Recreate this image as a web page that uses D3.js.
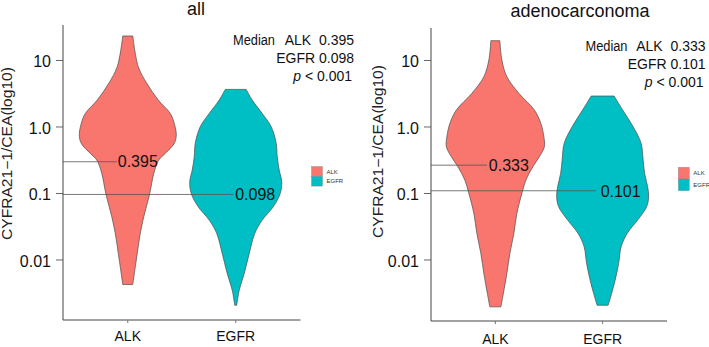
<!DOCTYPE html>
<html><head><meta charset="utf-8">
<script src="https://cdn.jsdelivr.net/npm/d3@7"></script>
<style>body{margin:0;background:#fff}svg{display:block;font-family:"Liberation Sans",Arial,sans-serif}</style>
</head><body><svg id="c" width="709" height="347"></svg>
<script>
// ---- data ----
const categories = ["ALK", "EGFR"];
const yTickValues = [10, 1, 0.1, 0.01];
const yTickLabels = ["10", "1.0", "0.1", "0.01"];
const titles = ["all", "adenocarconoma"];
const yLabel = "CYFRA21\u22121/CEA(log10)";

// violin outlines: value (ratio) and relative density
const allALKValues   = [22.96, 7.94, 4.46, 2.50, 1.57, 1.11, 0.743, 0.557, 0.394, 0.313, 0.197, 0.0984, 0.0439, 0.0246, 0.00977, 0.0042];
const allALKDensity  = [0.10, 0.21, 0.38, 0.61, 0.85, 0.93, 0.97, 0.93, 0.75, 0.62, 0.52, 0.44, 0.32, 0.25, 0.17, 0.10];
const allEGFRValues  = [3.61, 2.50, 1.57, 0.992, 0.557, 0.351, 0.221, 0.148, 0.0984, 0.0619, 0.0391, 0.0246, 0.0123, 0.00615, 0.00345, 0.00205];
const allEGFRDensity = [0.21, 0.33, 0.53, 0.71, 0.81, 0.83, 0.87, 0.92, 0.89, 0.75, 0.53, 0.38, 0.27, 0.17, 0.07, 0.02];
const adALKValues    = [19.5, 10.0, 5.61, 3.15, 1.77, 1.11, 0.701, 0.495, 0.351, 0.248, 0.156, 0.0984, 0.0492, 0.0246, 0.0123, 0.00615, 0.00308, 0.00194];
const adALKDensity   = [0.09, 0.13, 0.23, 0.47, 0.78, 0.91, 0.97, 0.98, 0.88, 0.75, 0.61, 0.53, 0.43, 0.37, 0.29, 0.23, 0.16, 0.11];
const adEGFRValues   = [2.87, 1.77, 0.992, 0.557, 0.313, 0.197, 0.124, 0.0877, 0.0619, 0.0391, 0.0246, 0.0155, 0.00869, 0.00488, 0.00308, 0.00205];
const adEGFRDensity  = [0.23, 0.40, 0.61, 0.77, 0.81, 0.84, 0.90, 0.92, 0.88, 0.70, 0.49, 0.37, 0.32, 0.25, 0.18, 0.11];

// median marker lines (position as drawn) and their labels
const allMedianLinePos = [0.295, 0.095];
const allMedianLabels  = ["0.395", "0.098"];
const adMedianLinePos  = [0.262, 0.108];
const adMedianLabels   = ["0.333", "0.101"];
const allNote = ["ALK  0.395", "EGFR 0.098"];
const adNote  = ["ALK  0.333", "EGFR 0.101"];
const pText = "< 0.001";

const colors = ["#F8766D", "#00BFC4"];

const svg = d3.select("#c");
const y = d3.scaleLog().domain([Math.pow(10, -2.91), Math.pow(10, 1.526)]).range([320, 25]);
const w = d3.scaleLinear().domain([0, 1]).range([0, 50]);

function panel(cfg) {
  const g = svg.append("g");
  const x = d3.scaleLinear().domain([0.4, 2.6]).range([cfg.x0, cfg.x1]);
  // violins
  cfg.violins.forEach((v, i) => {
    const pts = v.values.map((val, k) => ({ v: val, d: v.density[k] }));
    const cx = x(i + 1);
    const area = d3.area()
      .y(d => y(d.v))
      .x0(d => cx - w(d.d))
      .x1(d => cx + w(d.d))
      .curve(d3.curveCatmullRom.alpha(0.5));
    g.append("path").attr("d", area(pts))
      .attr("fill", colors[i]).attr("stroke", "#4a4a4a").attr("stroke-width", 0.7);
  });
  // median lines + labels
  cfg.medianPos.forEach((m, i) => {
    const cx = x(i + 1);
    const xe = cx + cfg.lineEndOff[i];
    g.append("line").attr("x1", cfg.x0).attr("x2", xe)
      .attr("y1", y(m)).attr("y2", y(m)).attr("stroke", "#555").attr("stroke-width", 0.8);
    g.append("text").attr("x", xe + cfg.labelGap[i]).attr("y", y(m)).attr("dy", "0.36em")
      .attr("font-size", 16).attr("fill", "#111").text(cfg.medianLabels[i]);
  });
  // axes
  const ya = d3.axisLeft(y).tickValues(yTickValues).tickFormat((d, i) => yTickLabels[i]).tickSize(7).tickPadding(5);
  const yg = g.append("g").attr("transform", `translate(${cfg.x0},0)`).call(ya);
  yg.select(".domain").remove();
  yg.selectAll("line").attr("stroke", "#666");
  yg.selectAll("text").attr("font-size", 16).attr("dy", "0.42em").attr("fill", "#111").attr("font-family", "Liberation Sans, Arial, sans-serif");
  g.append("line").attr("x1", cfg.x0).attr("x2", cfg.x0).attr("y1", cfg.top).attr("y2", cfg.bottom).attr("stroke", "#444").attr("stroke-width", 1);
  g.append("line").attr("x1", cfg.x0).attr("x2", cfg.x1).attr("y1", cfg.bottom).attr("y2", cfg.bottom).attr("stroke", "#444").attr("stroke-width", 1);
  categories.forEach((c, i) => {
    g.append("line").attr("x1", x(i + 1)).attr("x2", x(i + 1)).attr("y1", cfg.bottom).attr("y2", cfg.bottom + 3).attr("stroke", "#777");
    g.append("text").attr("x", x(i + 1)).attr("y", cfg.xLabY).attr("text-anchor", "middle")
      .attr("font-size", 14).attr("fill", "#111").text(c);
  });
  // y label
  g.append("text").attr("transform", `translate(${cfg.yLabX},${cfg.yLabC}) rotate(-90)`)
    .attr("text-anchor", "middle").attr("font-size", 14).attr("fill", "#222")
    .attr("textLength", 173).attr("lengthAdjust", "spacingAndGlyphs").text(yLabel);
  // title
  g.append("text").attr("x", cfg.titleX).attr("y", cfg.titleY).attr("text-anchor", "middle")
    .attr("font-size", 18).attr("fill", "#111").text(cfg.title);
  // annotation
  g.append("text").attr("x", cfg.noteX0).attr("y", cfg.noteY).attr("font-size", 14).attr("fill", "#111")
    .attr("textLength", 42).attr("lengthAdjust", "spacingAndGlyphs").text("Median");
  cfg.note.forEach((t, i) => {
    g.append("text").attr("x", cfg.noteX1).attr("y", cfg.noteY + i * 18).attr("text-anchor", "end")
      .attr("font-size", 14).attr("fill", "#111").attr("xml:space", "preserve").style("white-space", "pre").text(t);
  });
  const pt = g.append("text").attr("x", cfg.noteX1 - 2).attr("y", cfg.noteY + 36).attr("text-anchor", "end")
    .attr("font-size", 14).attr("fill", "#111");
  pt.append("tspan").attr("font-style", "italic").text("p ");
  pt.append("tspan").text(pText);
  // legend
  categories.forEach((c, i) => {
    g.append("rect").attr("x", cfg.legX).attr("y", cfg.legY + i * cfg.legH).attr("width", 11).attr("height", cfg.legH)
      .attr("fill", colors[i]).attr("stroke", "#888").attr("stroke-width", 0.4);
    g.append("text").attr("x", cfg.legX + 15).attr("y", cfg.legY + i * cfg.legH + cfg.legH / 2).attr("dy", "0.35em")
      .attr("font-size", 6).attr("fill", "#333").text(c);
  });
}

panel({
  x0: 63, x1: 300.5, top: 25, bottom: 320, xLabY: 341,
  violins: [{ values: allALKValues, density: allALKDensity }, { values: allEGFRValues, density: allEGFRDensity }],
  medianPos: allMedianLinePos, medianLabels: allMedianLabels, lineEndOff: [-11, -2.5], labelGap: [1, 2],
  yLabX: 12, yLabC: 153.5, title: titles[0], titleX: 196, titleY: 15,
  note: allNote, noteX0: 233, noteX1: 354, noteY: 45,
  legX: 311.5, legY: 166.5, legH: 9.8
});
panel({
  x0: 431, x1: 667, top: 28, bottom: 321, xLabY: 343.5,
  violins: [{ values: adALKValues, density: adALKDensity }, { values: adEGFRValues, density: adEGFRDensity }],
  medianPos: adMedianLinePos, medianLabels: adMedianLabels, lineEndOff: [-8.5, -7], labelGap: [2, 5],
  yLabX: 383, yLabC: 151.5, title: titles[1], titleX: 580, titleY: 17,
  note: adNote, noteX0: 585.5, noteX1: 705.5, noteY: 50.5,
  legX: 678.3, legY: 167.3, legH: 11.7
});
</script></body></html>
